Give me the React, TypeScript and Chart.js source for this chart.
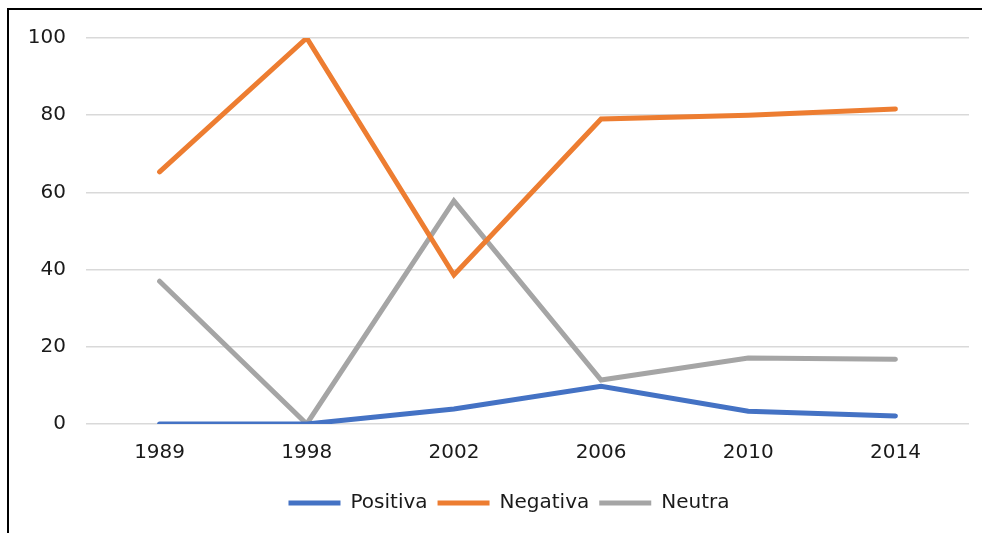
import React, { useEffect, useRef } from "react";
import { Chart, registerables } from "chart.js";

Chart.register(...registerables);

const categories = ["1989", "1998", "2002", "2006", "2010", "2014"];
const positiva = [0, 0, 3.9, 9.8, 3.3, 2.1];
const negativa = [65.3, 100, 38.6, 79, 80, 81.6];
const neutra = [37, 0, 57.8, 11.4, 17.1, 16.8];
const yTicks = [0, 20, 40, 60, 80, 100];

const FONT = "'DejaVu Sans', Verdana, sans-serif";

const legendShift = {
  id: "legendShift",
  afterLayout(chart: any) {
    if (chart.legend) {
      chart.legend.left = 49;
    }
  },
};

export default function App() {
  const canvasRef = useRef<HTMLCanvasElement>(null);

  useEffect(() => {
    const ctx = canvasRef.current!;
    const mk = (label: string, data: number[], color: string) => ({
      label,
      data,
      borderColor: color,
      backgroundColor: color,
      borderWidth: 5,
      borderCapStyle: "round" as const,
      borderJoinStyle: "miter" as const,
      pointRadius: 0,
      pointHoverRadius: 0,
      tension: 0,
      fill: false,
    });
    const chart = new Chart(ctx, {
      type: "line",
      data: {
        labels: categories,
        datasets: [
          mk("Positiva", positiva, "#4472C4"),
          mk("Negativa", negativa, "#ED7D31"),
          mk("Neutra", neutra, "#A5A5A5"),
        ],
      },
      plugins: [legendShift],
      options: {
        animation: false,
        responsive: false,
        maintainAspectRatio: false,
        layout: { padding: { left: 0, right: 13, top: 38, bottom: 10 } },
        plugins: {
          tooltip: { enabled: false },
          legend: {
            position: "bottom",
            align: "center",
            labels: {
              usePointStyle: true,
              pointStyle: "line",
              pointStyleWidth: 52,
              padding: 10,
              color: "#1a1a1a",
              font: { family: FONT, size: 20 },
            },
          },
        },
        scales: {
          x: {
            type: "category",
            offset: true,
            grid: { display: false, drawTicks: false },
            border: { display: false },
            ticks: {
              color: "#1a1a1a",
              font: { family: FONT, size: 20 },
              padding: 17,
              maxRotation: 0,
              autoSkip: false,
            },
            afterFit: (s: any) => {
              s.height = 59;
            },
          },
          y: {
            min: 0,
            max: 100,
            afterBuildTicks: (s: any) => {
              s.ticks = yTicks.map((v) => ({ value: v }));
            },
            grid: { color: "#d9d9d9", lineWidth: 1.6, drawTicks: false },
            border: { display: false },
            ticks: {
              color: "#1a1a1a",
              font: { family: FONT, size: 20 },
              padding: 20,
            },
            afterFit: (s: any) => {
              s.width = 86;
            },
          },
        },
      },
    });
    return () => chart.destroy();
  }, []);

  return (
    <div style={{ position: "fixed", left: 0, top: 0, width: 982, height: 533, background: "#fff", overflow: "hidden" }}>
      <canvas ref={canvasRef} width={982} height={533} style={{ position: "absolute", left: 0, top: 0, width: 982, height: 533 }} />
      <div
        style={{
          position: "absolute",
          left: 7,
          top: 8,
          width: 1000,
          height: 600,
          borderLeft: "2px solid #000",
          borderTop: "2px solid #000",
          pointerEvents: "none",
        }}
      />
    </div>
  );
}
